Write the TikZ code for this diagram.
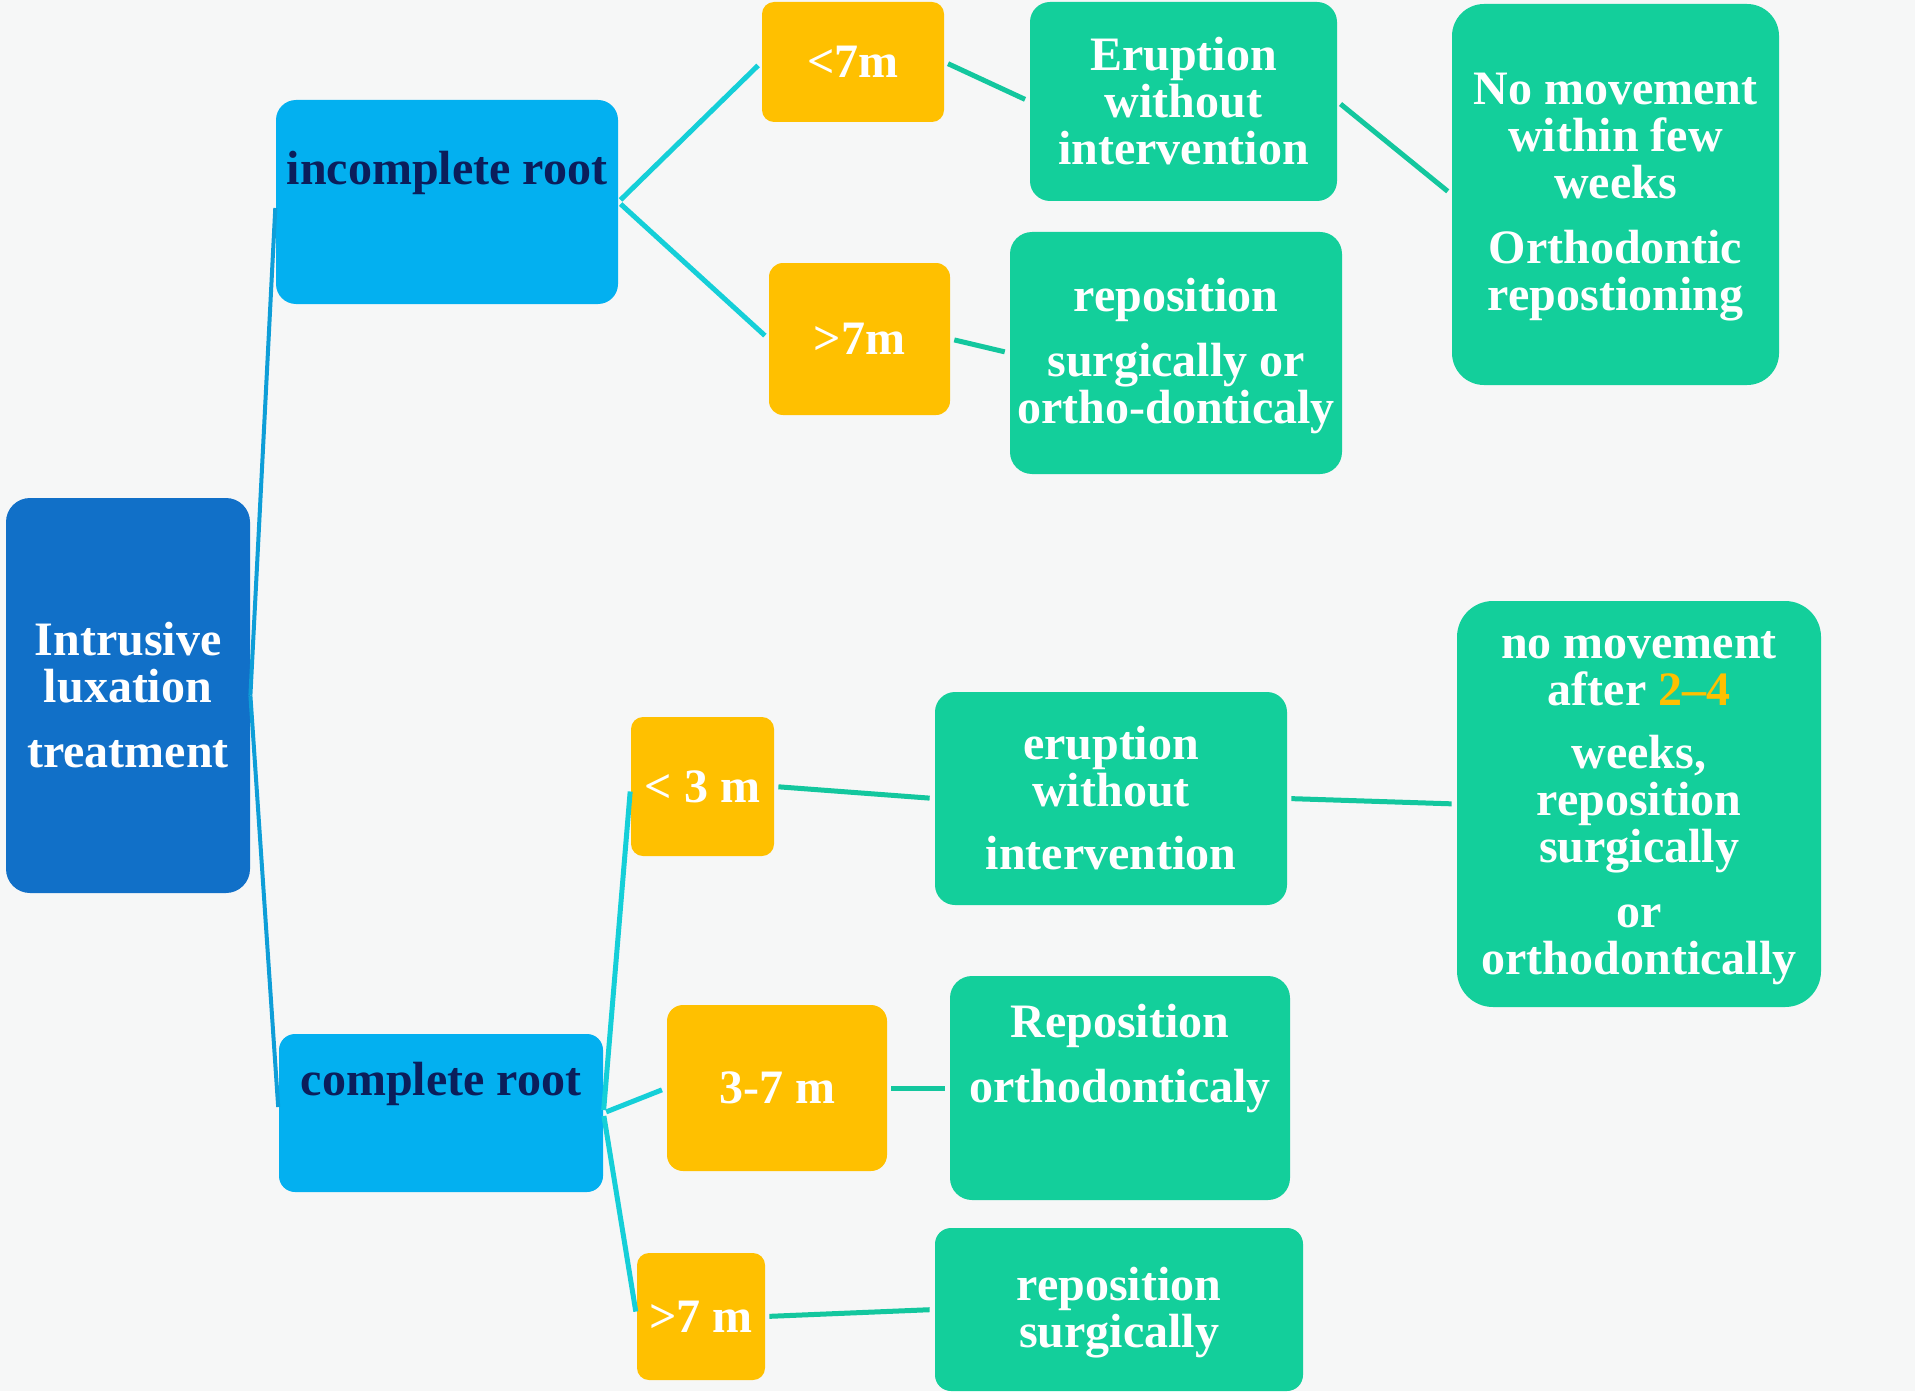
\documentclass[tikz,border=0pt]{standalone}
\usepackage{fontspec}
\setmainfont{Liberation Serif}
\usetikzlibrary{fit}
\definecolor{bgc}{HTML}{F6F7F7}
\definecolor{rootblue}{HTML}{1170C8}
\definecolor{midblue}{HTML}{03B0F0}
\definecolor{ambre}{HTML}{FFC000}
\definecolor{mint}{HTML}{13CF9B}
\definecolor{cyanline}{HTML}{15CFD8}
\definecolor{mintline}{HTML}{13C79E}
\definecolor{rootline}{HTML}{0E9ED8}
\definecolor{navy}{HTML}{0B1E5B}
\begin{document}
\begin{tikzpicture}[x=0.5pt,y=-0.5pt,
  lbl/.style={font=\bfseries\fontsize{24}{23.5}\selectfont, align=center, text=white, inner sep=0pt},
  box/.style={fit={#1}, inner sep=0pt, draw=none},
  rootbox/.style={fill=rootblue},
  branchbox/.style={fill=midblue},
  agebox/.style={fill=ambre},
  carebox/.style={fill=mint},
  trunk/.style={draw=rootline, line width=2pt, shorten >=3pt},
  fork/.style={draw=cyanline, line width=2.5pt, shorten <=1.5pt, shorten >=2.5pt},
  link/.style={draw=mintline, line width=2.5pt, shorten <=2pt, shorten >=2.5pt}]

\fill[bgc] (0,0) rectangle (1915,1391);
\useasboundingbox (0,0) rectangle (1915,1391);

% root
\node[box={(6,498)(250,893)}, rootbox, rounded corners=12pt] (root) {};
\node[lbl] (roott) at (root.center) {Intrusive\\luxation\\[9pt]treatment};

% root-type branches
\node[box={(276,100)(618,304)}, branchbox, rounded corners=10pt] (inc) {};
\node[lbl, text=navy] (inct) at (447,173) {incomplete root};
\node[box={(279,1034)(603,1192)}, branchbox, rounded corners=8pt] (comp) {};
\node[lbl, text=navy] (compt) at (441,1084) {complete root};

% incomplete root: ages
\node[box={(762,2)(944,122)}, agebox, rounded corners=6pt] (a1) {};
\node[lbl] (a1t) at (a1.center) {<7m};
\node[box={(769,263)(950,415)}, agebox, rounded corners=7pt] (a2) {};
\node[lbl] (a2t) at (a2.center) {>7m};

% incomplete root: treatment
\node[box={(1030,2)(1337,201)}, carebox, rounded corners=10pt] (t1) {};
\node[lbl] (t1t) at (t1.center) {Eruption\\without\\intervention};
\node[box={(1010,232)(1342,474)}, carebox, rounded corners=11pt] (t2) {};
\node[lbl] (t2t) at ([yshift=-1.5pt]t2.center) {reposition\\[9pt]surgically or\\ortho-donticaly};
\node[box={(1452,4)(1779,385)}, carebox, rounded corners=16pt] (t3) {};
\node[lbl] (t3t) at ([yshift=-1.5pt]t3.center)
  {No movement\\within few\\weeks\\[9pt]Orthodontic\\repostioning};

% complete root: ages
\node[box={(631,717)(774,856)}, agebox, rounded corners=6pt] (a3) {};
\node[lbl] (a3t) at (a3.center) {< 3 m};
\node[box={(667,1005)(887,1171)}, agebox, rounded corners=8pt] (a4) {};
\node[lbl] (a4t) at (a4.center) {3-7 m};
\node[box={(637,1253)(765,1380)}, agebox, rounded corners=6pt] (a5) {};
\node[lbl] (a5t) at (a5.center) {>7 m};

% complete root: treatment
\node[box={(935,692)(1287,905)}, carebox, rounded corners=10pt] (t4) {};
\node[lbl] (t4t) at (t4.center) {eruption\\without\\[8pt]intervention};
\node[box={(950,976)(1290,1200)}, carebox, rounded corners=11pt] (t5) {};
\node[lbl] (t5t) at (1120,1059) {Reposition\\[9pt]orthodonticaly};
\node[box={(935,1228)(1303,1391)}, carebox, rounded corners=8pt] (t6) {};
\node[lbl] (t6t) at ([yshift=-1.5pt]t6.center) {reposition\\surgically};
\node[box={(1457,601)(1821,1007)}, carebox, rounded corners=18pt] (t7) {};
\node[lbl] (t7t) at ([yshift=-2pt]t7.center)
  {no movement\\after {\color{ambre}2–4}\\[8pt]weeks,\\reposition\\surgically\\[9pt]or\\orthodontically};

% connectors
\draw[trunk] (root.east) -- (inc.west);
\draw[trunk] (root.east) -- (comp.west);
\draw[fork] (inc.east) -- (a1.west);
\draw[fork] (inc.east) -- (a2.west);
\draw[fork] (comp.east) -- (a3.west);
\draw[fork] (comp.east) -- (a4.west);
\draw[fork] (comp.east) -- (a5.west);
\draw[link] (a1.east) -- (t1.west);
\draw[link] (a2.east) -- (t2.west);
\draw[link] (t1.east) -- (t3.west);
\draw[link] (a3.east) -- (t4.west);
\draw[link] (a4.east) -- (t5.west);
\draw[link] (a5.east) -- (t6.west);
\draw[link] (t4.east) -- (t7.west);
\end{tikzpicture}
\end{document}
